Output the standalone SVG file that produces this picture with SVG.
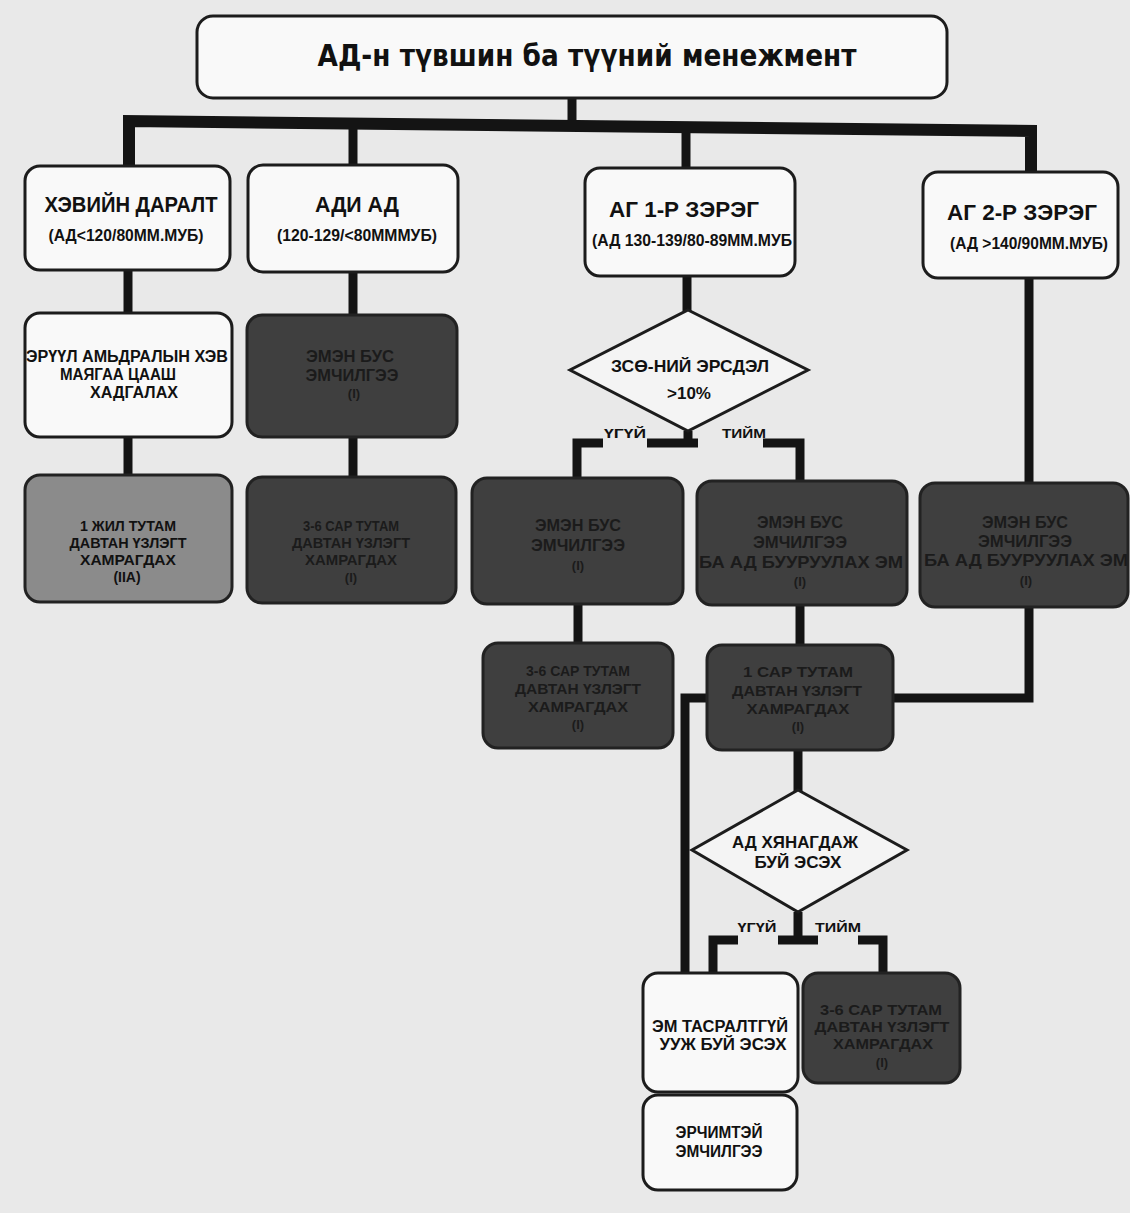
<svg xmlns="http://www.w3.org/2000/svg" width="1130" height="1213" viewBox="0 0 1130 1213">
<style>
.bg{fill:#e9e9e9}
.w{fill:#f9f9f9;stroke:#1c1c1c;stroke-width:3}
.d{fill:#3f3f3f;stroke:#222;stroke-width:3}
.g{fill:#8b8b8b;stroke:#222;stroke-width:3}
.dia{fill:#f4f4f4;stroke:#1c1c1c;stroke-width:3}
.c{fill:none;stroke:#141414;stroke-width:9;stroke-linejoin:miter}
text{font-family:"Liberation Sans",Arial,sans-serif;font-weight:bold;text-anchor:middle;fill:#111}
.t{font-family:"DejaVu Sans","Liberation Sans",sans-serif;font-size:30px}
.h{font-size:22px}
.s{font-size:17px}
.b{font-size:16px}
.m{font-size:17px;fill:#1b1b1b}
.q{font-size:15px;fill:#1b1b1b}
.qb{font-size:15px}
.r{font-size:13px;fill:#1b1b1b}
.rl{font-size:13px}
.l{font-size:14px}
</style>
<rect class="bg" x="0" y="0" width="1130" height="1213"/>

<g id="connectors">
<path class="c" d="M572 98 V124"/>
<path class="c" style="stroke-width:12" d="M129 166 V121 L1031 131 V173"/>
<path class="c" d="M353 123 V166"/>
<path class="c" d="M686 127 V169"/>
<path class="c" d="M128 270 V313"/>
<path class="c" d="M128 437 V476"/>
<path class="c" d="M353 272 V316"/>
<path class="c" d="M353 437 V478"/>
<path class="c" d="M687 276 V311"/>
<path class="c" d="M688 431 V443"/>
<path class="c" d="M647 443 H698"/>
<path class="c" d="M603 443 H577 V479"/>
<path class="c" d="M763 443 H800 V482"/>
<path class="c" d="M1029 278 V484"/>
<path class="c" d="M578 604 V644"/>
<path class="c" d="M800 605 V646"/>
<path class="c" d="M1029 607 V698 H893"/>
<path class="c" d="M707 698 H685 V974"/>
<path class="c" d="M798 750 V791"/>
<path class="c" d="M798 912 V940"/>
<path class="c" d="M778 940 H818"/>
<path class="c" d="M738 940 H713 V974"/>
<path class="c" d="M858 940 H883 V974"/>
</g>

<g id="title">
<rect class="w" x="197" y="16" width="750" height="82" rx="16"/>
<text class="t" x="587" y="66" textLength="539" lengthAdjust="spacingAndGlyphs">АД-н түвшин ба түүний менежмент</text>
</g>

<g id="normal">
<rect class="w" x="25" y="166" width="205" height="104" rx="15"/>
<text class="h" x="131" y="212" textLength="173" lengthAdjust="spacingAndGlyphs">ХЭВИЙН ДАРАЛТ</text>
<text class="s" x="126" y="241" textLength="155" lengthAdjust="spacingAndGlyphs">(АД&lt;120/80ММ.МУБ)</text>
</g>

<g id="elevated">
<rect class="w" x="248" y="165" width="210" height="107" rx="15"/>
<text class="h" x="357" y="212" textLength="84" lengthAdjust="spacingAndGlyphs">АДИ АД</text>
<text class="s" x="357" y="241" textLength="160" lengthAdjust="spacingAndGlyphs">(120-129/&lt;80МММУБ)</text>
</g>

<g id="stage1">
<rect class="w" x="585" y="168" width="210" height="108" rx="15"/>
<text class="h" x="684" y="217" textLength="150" lengthAdjust="spacingAndGlyphs">АГ 1-Р ЗЭРЭГ</text>
<text class="s" x="692" y="246" textLength="200" lengthAdjust="spacingAndGlyphs">(АД 130-139/80-89ММ.МУБ</text>
</g>

<g id="stage2">
<rect class="w" x="923" y="172" width="195" height="106" rx="15"/>
<text class="h" x="1022" y="220" textLength="150" lengthAdjust="spacingAndGlyphs">АГ 2-Р ЗЭРЭГ</text>
<text class="s" x="1029" y="249" textLength="158" lengthAdjust="spacingAndGlyphs">(АД &gt;140/90ММ.МУБ)</text>
</g>

<g id="lifestyle">
<rect class="w" x="25" y="313" width="207" height="124" rx="15"/>
<text class="b" x="127" y="362" textLength="202" lengthAdjust="spacingAndGlyphs">ЭРҮҮЛ АМЬДРАЛЫН ХЭВ</text>
<text class="b" x="118" y="380" textLength="116" lengthAdjust="spacingAndGlyphs">МАЯГАА ЦААШ</text>
<text class="b" x="134" y="398" textLength="88" lengthAdjust="spacingAndGlyphs">ХАДГАЛАХ</text>
</g>

<g id="nondrug1">
<rect class="d" x="247" y="315" width="210" height="122" rx="15"/>
<text class="m" x="350" y="362" textLength="88" lengthAdjust="spacingAndGlyphs">ЭМЭН БУС</text>
<text class="m" x="352" y="381" textLength="93" lengthAdjust="spacingAndGlyphs">ЭМЧИЛГЭЭ</text>
<text class="r" x="354" y="398">(I)</text>
</g>

<g id="yearly">
<rect class="g" x="25" y="475" width="207" height="127" rx="15"/>
<text class="qb" x="128" y="531" textLength="96" lengthAdjust="spacingAndGlyphs">1 ЖИЛ ТУТАМ</text>
<text class="qb" x="128" y="548" textLength="117" lengthAdjust="spacingAndGlyphs">ДАВТАН ҮЗЛЭГТ</text>
<text class="qb" x="128" y="565" textLength="96" lengthAdjust="spacingAndGlyphs">ХАМРАГДАХ</text>
<text class="l" x="127" y="582">(IIA)</text>
</g>

<g id="followup1">
<rect class="d" x="247" y="477" width="209" height="126" rx="15"/>
<text class="q" x="351" y="531" textLength="96" lengthAdjust="spacingAndGlyphs">3-6 САР ТУТАМ</text>
<text class="q" x="351" y="548" textLength="118" lengthAdjust="spacingAndGlyphs">ДАВТАН ҮЗЛЭГТ</text>
<text class="q" x="351" y="565" textLength="92" lengthAdjust="spacingAndGlyphs">ХАМРАГДАХ</text>
<text class="r" x="351" y="582">(I)</text>
</g>

<g id="risk">
<polygon class="dia" points="688,310 808,370 688,431 570,370"/>
<text class="s" x="690" y="372" textLength="158" lengthAdjust="spacingAndGlyphs">ЗСӨ-НИЙ ЭРСДЭЛ</text>
<text class="s" x="689" y="399">&gt;10%</text>
<text class="rl" x="625" y="438" textLength="42" lengthAdjust="spacingAndGlyphs">ҮГҮЙ</text>
<text class="rl" x="744" y="438" textLength="44" lengthAdjust="spacingAndGlyphs">ТИЙМ</text>
</g>

<g id="nondrug2">
<rect class="d" x="472" y="478" width="211" height="126" rx="15"/>
<text class="m" x="578" y="531" textLength="86" lengthAdjust="spacingAndGlyphs">ЭМЭН БУС</text>
<text class="m" x="578" y="551" textLength="94" lengthAdjust="spacingAndGlyphs">ЭМЧИЛГЭЭ</text>
<text class="r" x="578" y="570">(I)</text>
</g>

<g id="drug1">
<rect class="d" x="697" y="481" width="210" height="124" rx="15"/>
<text class="m" x="800" y="528" textLength="86" lengthAdjust="spacingAndGlyphs">ЭМЭН БУС</text>
<text class="m" x="800" y="548" textLength="94" lengthAdjust="spacingAndGlyphs">ЭМЧИЛГЭЭ</text>
<text class="m" x="801" y="568" textLength="204" lengthAdjust="spacingAndGlyphs">БА АД БУУРУУЛАХ ЭМ</text>
<text class="r" x="800" y="586">(I)</text>
</g>

<g id="drug2">
<rect class="d" x="920" y="483" width="208" height="124" rx="15"/>
<text class="m" x="1025" y="528" textLength="86" lengthAdjust="spacingAndGlyphs">ЭМЭН БУС</text>
<text class="m" x="1025" y="547" textLength="94" lengthAdjust="spacingAndGlyphs">ЭМЧИЛГЭЭ</text>
<text class="m" x="1026" y="566" textLength="204" lengthAdjust="spacingAndGlyphs">БА АД БУУРУУЛАХ ЭМ</text>
<text class="r" x="1026" y="585">(I)</text>
</g>

<g id="followup2">
<rect class="d" x="483" y="643" width="190" height="105" rx="15"/>
<text class="q" x="578" y="676" textLength="104" lengthAdjust="spacingAndGlyphs">3-6 САР ТУТАМ</text>
<text class="q" x="578" y="694" textLength="126" lengthAdjust="spacingAndGlyphs">ДАВТАН ҮЗЛЭГТ</text>
<text class="q" x="578" y="712" textLength="100" lengthAdjust="spacingAndGlyphs">ХАМРАГДАХ</text>
<text class="r" x="578" y="729">(I)</text>
</g>

<g id="monthly">
<rect class="d" x="707" y="645" width="186" height="105" rx="15"/>
<text class="q" x="798" y="677" textLength="110" lengthAdjust="spacingAndGlyphs">1 САР ТУТАМ</text>
<text class="q" x="797" y="696" textLength="130" lengthAdjust="spacingAndGlyphs">ДАВТАН ҮЗЛЭГТ</text>
<text class="q" x="798" y="714" textLength="103" lengthAdjust="spacingAndGlyphs">ХАМРАГДАХ</text>
<text class="r" x="798" y="731">(I)</text>
</g>

<g id="controlled">
<polygon class="dia" points="798,790 907,850 798,912 692,850"/>
<text class="s" x="795" y="848" textLength="126" lengthAdjust="spacingAndGlyphs">АД ХЯНАГДАЖ</text>
<text class="s" x="798" y="868" textLength="87" lengthAdjust="spacingAndGlyphs">БУЙ ЭСЭХ</text>
<text class="rl" x="757" y="932" textLength="39" lengthAdjust="spacingAndGlyphs">ҮГҮЙ</text>
<text class="rl" x="838" y="932" textLength="46" lengthAdjust="spacingAndGlyphs">ТИЙМ</text>
</g>

<g id="adherence">
<rect class="w" x="643" y="973" width="155" height="119" rx="15"/>
<text class="b" x="720" y="1032" textLength="136" lengthAdjust="spacingAndGlyphs">ЭМ ТАСРАЛТГҮЙ</text>
<text class="b" x="723" y="1050" textLength="127" lengthAdjust="spacingAndGlyphs">УУЖ БУЙ ЭСЭХ</text>
</g>

<g id="followup3">
<rect class="d" x="803" y="973" width="157" height="110" rx="15"/>
<text class="q" x="881" y="1015" textLength="122" lengthAdjust="spacingAndGlyphs">3-6 САР ТУТАМ</text>
<text class="q" x="882" y="1032" textLength="135" lengthAdjust="spacingAndGlyphs">ДАВТАН ҮЗЛЭГТ</text>
<text class="q" x="883" y="1049" textLength="100" lengthAdjust="spacingAndGlyphs">ХАМРАГДАХ</text>
<text class="r" x="882" y="1067">(I)</text>
</g>

<g id="intensive">
<rect class="w" x="643" y="1095" width="154" height="95" rx="15"/>
<text class="b" x="719" y="1138" textLength="87" lengthAdjust="spacingAndGlyphs">ЭРЧИМТЭЙ</text>
<text class="b" x="719" y="1157" textLength="87" lengthAdjust="spacingAndGlyphs">ЭМЧИЛГЭЭ</text>
</g>
</svg>
